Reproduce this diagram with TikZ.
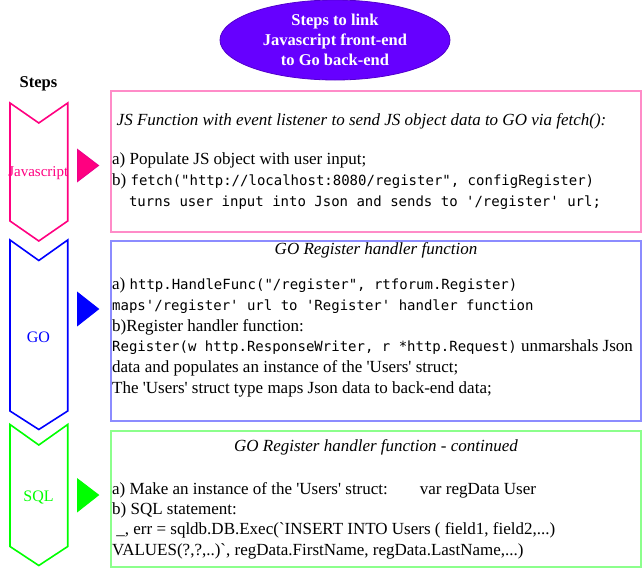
\documentclass[tikz,border=0pt]{standalone}
\usepackage{fontspec}
\setmainfont{Liberation Serif}[Ligatures=TeXOff]
\setmonofont{DejaVu Sans Mono}
\usetikzlibrary{shapes.geometric, positioning}
\definecolor{titlebg}{RGB}{102,0,255}
\definecolor{jscol}{RGB}{255,0,128}
\definecolor{gocol}{RGB}{0,0,255}
\definecolor{sqlcol}{RGB}{0,255,0}
\definecolor{jsborder}{RGB}{255,140,200}
\definecolor{goborder}{RGB}{140,140,255}
\definecolor{sqlborder}{RGB}{140,255,140}
\newcommand{\gocode}[1]{{\ttfamily\fontsize{14}{17}\selectfont #1}}
\tikzset{
  titlebox/.style={ellipse, draw=titlebg!80!black, fill=titlebg, line width=0.8pt,
                   minimum width=230pt, minimum height=80pt, inner sep=0pt,
                   text=white, align=center, font=\fontsize{16.5}{19.7}\selectfont\bfseries},
  stepshape/.style={draw=#1, line width=1.6pt, line join=miter},
  steplabel/.style 2 args={text=#1, font=\fontsize{#2}{18}\selectfont, inner sep=0pt},
  pointer/.style={fill=#1, draw=#1, line width=1pt, line join=miter},
  infobox/.style={rectangle, draw=#1, line width=2pt, minimum width=530pt,
                  inner sep=0pt, anchor=north west},
  infotitle/.style={font=\fontsize{17}{20}\selectfont\itshape, inner sep=0pt},
  infotext/.style={font=\fontsize{17}{20.8}\selectfont, align=left,
                   inner sep=0pt, anchor=north west},
}
\begin{document}
\begin{tikzpicture}[x=1pt, y=-1pt]
  \useasboundingbox (0,0) rectangle (642,568);
  % header
  \node[titlebox] (title) at (335,40)
    {Steps to link\\Javascript front-end\\to Go back-end};
  \node[font=\fontsize{16.5}{18}\selectfont\bfseries, inner sep=0pt] (steps) at (38.5,84) {Steps};

  % step chevrons
  \draw[stepshape=jscol] (10,103) -- (38.8,123) -- (67.7,103) -- (67.7,221)
    -- (38.8,241) -- (10,221) -- cycle;
  \node[steplabel={jscol}{15}] (jsstep) at (38.3,173) {Javascript};
  \filldraw[pointer=jscol, draw=magenta] (77.5,149.5) -- (98.5,165.5) -- (77.5,181.5) -- cycle;

  \draw[stepshape=gocol] (10,240) -- (38.8,260.5) -- (67.7,240) -- (67.7,411)
    -- (38.8,429.5) -- (10,411) -- cycle;
  \node[steplabel={gocol}{16}] (gostep) at (38.5,337) {GO};
  \filldraw[pointer=gocol] (77.5,292.5) -- (98.5,309) -- (77.5,325.5) -- cycle;

  \draw[stepshape=sqlcol] (10,424.5) -- (38.8,445) -- (67.7,424.5) -- (67.7,546.5)
    -- (38.8,565.5) -- (10,546.5) -- cycle;
  \node[steplabel={sqlcol}{16}] (sqlstep) at (38.5,497) {SQL};
  \filldraw[pointer=sqlcol] (77.5,479) -- (98.5,495) -- (77.5,511.5) -- cycle;

  % description boxes
  \node[infobox=jsborder, minimum height=141pt] (jsbox) at (110,90) {};
  \node[infotitle, anchor=base west] (jstitle) at (116.5,125.5)
    {JS Function with event listener to send JS object data to GO via fetch():};
  \node[infotext, font=\fontsize{17}{21}\selectfont] (jstext) at (112,152.5)
    {a) Populate JS object with user input;\\
     b) \gocode{fetch("http://localhost:8080/register", configRegister)}\\
     \gocode{\hspace*{16.8pt}turns user input into Json and sends to '/register' url;}};

  \node[infobox=goborder, minimum height=180pt] (gobox) at (110,240) {};
  \node[infotitle, below=2pt of gobox.north] (gotitle) {GO Register handler function};
  \node[infotext] (gotext) at (112,277.5)
    {a) \gocode{http.HandleFunc("/register", rtforum.Register)}\\
     \gocode{maps'/register' url to 'Register' handler function}\\
     b)Register handler function:\\
     \gocode{Register(w http.ResponseWriter, r *http.Request)} unmarshals Json\\
     data and populates an instance of the 'Users' struct;\\
     The 'Users' struct type maps Json data to back-end data;};

  \node[infobox=sqlborder, minimum height=136pt] (sqlbox) at (110,430) {};
  \node[infotitle, below=9.5pt of sqlbox.north] (sqltitle) {GO Register handler function - continued};
  \node[infotext, font=\fontsize{17}{20.4}\selectfont] (sqltext) at (112,482)
    {a) Make an instance of the 'Users' struct:\hspace{32pt}var regData User\\
     b) SQL statement:\\
     \ \_, err = sqldb.DB.Exec(`INSERT INTO Users ( field1, field2,...)\\
     VALUES(?,?,..)`, regData.FirstName, regData.LastName,...)};
\end{tikzpicture}
\end{document}
